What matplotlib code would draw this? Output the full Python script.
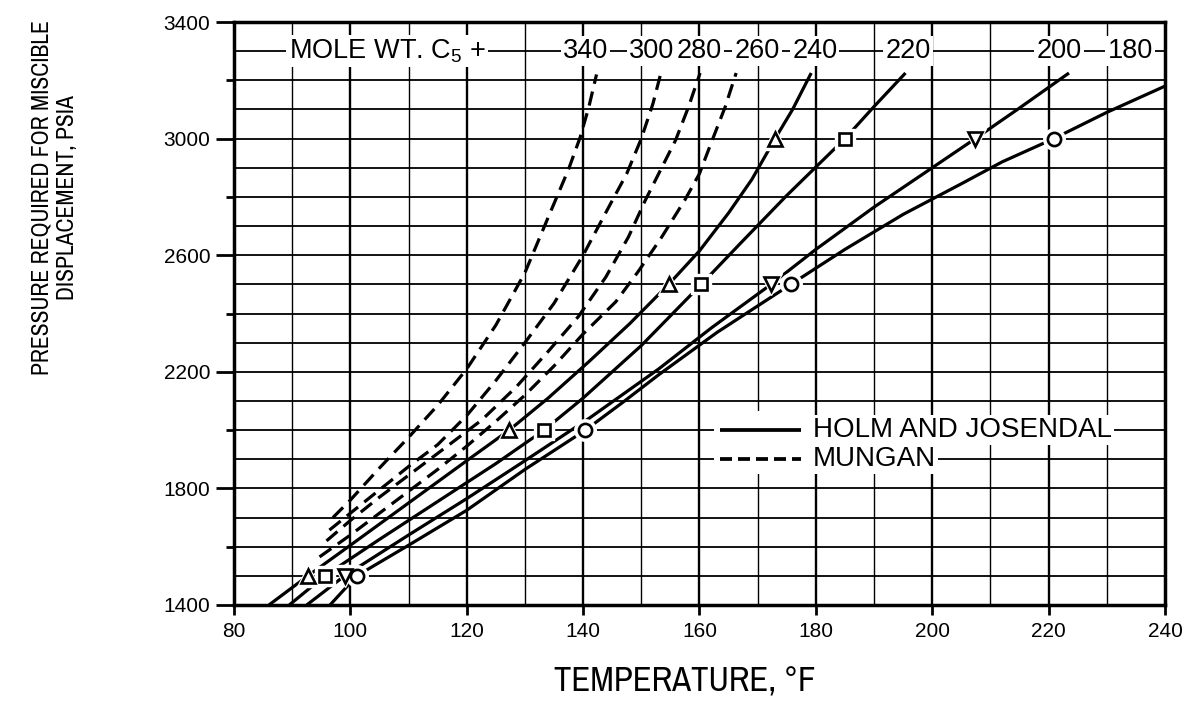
import matplotlib
matplotlib.use("Agg")
import matplotlib.pyplot as plt
from matplotlib import font_manager
from matplotlib.patches import Rectangle

# ---- data (temperature degF, pressure psia) ----
# Holm and Josendal curves (solid), labelled by C5+ mole weight
hj_240_t = [86, 92.7, 100, 110, 120, 127.3, 134, 141, 148, 154.7, 160, 165, 169, 173.0, 176, 179.2]
hj_240_p = [1400, 1500, 1605, 1750, 1895, 2000, 2110, 2235, 2365, 2500, 2615, 2745, 2860, 3000, 3100, 3225]
hj_220_t = [89.5, 95.6, 105, 115, 125, 133.3, 140, 150, 160.3, 167, 175, 185.0, 190, 195.4]
hj_220_p = [1400, 1500, 1625, 1755, 1885, 2000, 2110, 2290, 2500, 2640, 2805, 3000, 3110, 3225]
hj_200_t = [92.5, 99.0, 110, 120, 130, 141, 147, 153, 162, 172.3, 180, 190, 200, 207.4, 215, 223.5]
hj_200_p = [1400, 1500, 1640, 1765, 1895, 2040, 2125, 2210, 2350, 2500, 2620, 2765, 2900, 3000, 3105, 3225]
hj_180_t = [96.5, 101.1, 110, 120, 130, 140.4, 147, 153, 163, 175.7, 185, 195, 205, 212, 220.9, 230, 240]
hj_180_p = [1400, 1500, 1605, 1725, 1865, 2000, 2098, 2190, 2335, 2500, 2620, 2740, 2845, 2920, 3000, 3090, 3180]

# marked points on the Holm and Josendal curves
mk_240_t = [92.7, 127.3, 154.7, 173.0]
mk_240_p = [1500, 2000, 2500, 3000]
mk_220_t = [95.6, 133.3, 160.3, 185.0]
mk_220_p = [1500, 2000, 2500, 3000]
mk_200_t = [99.0, 172.3, 207.4]
mk_200_p = [1500, 2500, 3000]
mk_180_t = [101.1, 140.4, 175.7, 220.9]
mk_180_p = [1500, 2000, 2500, 3000]

# Mungan curves (dashed)
mu_340_t = [97, 100, 105, 110, 115, 120, 125, 130, 134, 137.5, 139.5, 141, 142.3]
mu_340_p = [1700, 1760, 1870, 1975, 2085, 2210, 2360, 2540, 2730, 2895, 3005, 3110, 3220]
mu_300_t = [96.4, 100, 105, 110, 115, 120, 125, 130, 135, 140, 144, 147.5, 150, 152, 153.3]
mu_300_p = [1657, 1715, 1795, 1875, 1950, 2050, 2170, 2300, 2435, 2600, 2750, 2880, 3000, 3120, 3220]
mu_280_t = [95.9, 100, 105, 110, 115, 122.6, 128.5, 134, 139.2, 143.9, 147.8, 150.7, 153.5, 155.9, 158.1, 160.1]
mu_280_p = [1620, 1690, 1770, 1845, 1920, 2035, 2148, 2270, 2390, 2525, 2663, 2789, 2900, 2995, 3108, 3225]
mu_260_t = [94.7, 100, 105, 110, 115, 120, 125, 130, 135, 140, 145.6, 149.5, 153.5, 157.5, 160, 162, 164.4, 166.3]
mu_260_p = [1565, 1640, 1715, 1790, 1865, 1945, 2030, 2120, 2220, 2330, 2440, 2545, 2662, 2790, 2880, 2985, 3108, 3225]

# labels along the top band
top_labels = ["340", "300", "280", "260", "240", "220", "200", "180"]
top_label_t = [140.4, 151.8, 159.9, 169.9, 179.8, 195.8, 221.8, 234.0]

names = {f.name for f in font_manager.fontManager.ttflist}
base = "Liberation Sans" if "Liberation Sans" in names else "DejaVu Sans"
narrow = base
for cand in ["Liberation Sans Narrow", "Archivo Narrow", "Barlow Semi Condensed"]:
    if cand in names:
        narrow = cand
        break
plt.rcParams["font.family"] = [base, "DejaVu Sans"]
plt.rcParams["mathtext.default"] = "regular"

fig = plt.figure(figsize=(11.88, 7.26), dpi=100)
ax = fig.add_axes([234 / 1188, 121 / 726, 931 / 1188, 583 / 726])
ax.set_xlim(80, 240)
ax.set_ylim(1400, 3400)

# grid
for t in range(90, 240, 10):
    ax.axvline(t, color="black", lw=1.7 if t % 20 == 0 else 1.0, zorder=1)
for p in range(1500, 3400, 100):
    ax.axhline(p, color="black", lw=1.3, zorder=1)

# white area behind legend samples
ax.add_patch(Rectangle((162.5, 1850), 17.0, 215, facecolor="white", edgecolor="none", zorder=2))

lw = 2.3
dash = (0, (4.5, 2.5))
for t, p in [(hj_240_t, hj_240_p), (hj_220_t, hj_220_p), (hj_200_t, hj_200_p), (hj_180_t, hj_180_p)]:
    ax.plot(t, p, color="black", lw=lw, solid_capstyle="butt", solid_joinstyle="round", zorder=3)
for t, p in [(mu_340_t, mu_340_p), (mu_300_t, mu_300_p), (mu_280_t, mu_280_p), (mu_260_t, mu_260_p)]:
    ax.plot(t, p, color="black", lw=lw, linestyle=dash, zorder=3)

for t, p, m, ms in [(mk_240_t, mk_240_p, "^", 10), (mk_220_t, mk_220_p, "s", 9),
                    (mk_200_t, mk_200_p, "v", 10), (mk_180_t, mk_180_p, "o", 9.5)]:
    ax.plot(t, p, linestyle="none", marker=m, ms=ms + 6, mfc="white", mec="white", zorder=4)
    ax.plot(t, p, linestyle="none", marker=m, ms=ms, mfc="white", mec="black", mew=1.9, zorder=5)

# top label band
box = dict(facecolor="white", edgecolor="none", pad=1.5)
ax.text(106.3, 3300, "MOLE WT. C$_5$ +", ha="center", va="center", fontsize=19.5, bbox=box, zorder=6)
for lab, t in zip(top_labels, top_label_t):
    ax.text(t, 3300, lab, ha="center", va="center", fontsize=19.5, bbox=box, zorder=6)

# legend
ax.plot([163.6, 177.5], [2000, 2000], color="black", lw=lw + 0.4, solid_capstyle="butt", zorder=3)
ax.plot([163.6, 177.5], [1900, 1900], color="black", lw=lw + 0.4, linestyle=(0, (3.2, 1.6)), zorder=3)
ax.text(179.5, 2000, "HOLM AND JOSENDAL", ha="left", va="center", fontsize=20, bbox=box, zorder=6)
ax.text(179.5, 1900, "MUNGAN", ha="left", va="center", fontsize=20, bbox=box, zorder=6)

# ticks and frame
ax.set_xticks(range(80, 241, 20))
ax.set_yticks(range(1400, 3401, 400))
ax.set_yticks(range(1600, 3401, 400), minor=True)
ax.tick_params(axis="x", which="major", direction="out", length=7, width=2, pad=5, labelsize=15)
ax.tick_params(axis="y", which="major", direction="out", length=13, width=2, pad=4, labelsize=15)
ax.tick_params(axis="y", which="minor", direction="out", length=6, width=2)
for s in ax.spines.values():
    s.set_linewidth(2.5)
    s.set_zorder(7)

xl = fig.text(685 / 1188, 1 - 682 / 726, "TEMPERATURE, °F", ha="center", va="center",
              fontsize=22, family=[narrow, "DejaVu Sans"])
fig.text(55 / 1188, 1 - 198 / 726, "PRESSURE REQUIRED FOR MISCIBLE\nDISPLACEMENT, PSIA",
         rotation=90, ha="center", va="center", multialignment="center",
         fontsize=17, linespacing=1.25, family=[narrow, "DejaVu Sans"])

# fit the x title to the width it takes in the reference
fig.canvas.draw()
w = xl.get_window_extent(fig.canvas.get_renderer()).width
xl.set_fontsize(22 * 262 / w)

fig.savefig("out.png", dpi=100)
